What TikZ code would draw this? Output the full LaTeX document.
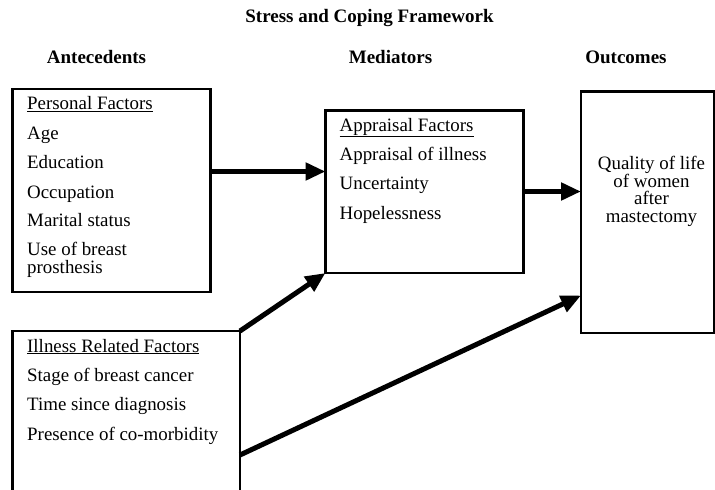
\documentclass[tikz,border=0pt]{standalone}
\usepackage{fontspec}
\setmainfont{Liberation Serif}
\usetikzlibrary{arrows.meta}
\begin{document}
\begin{tikzpicture}[x=1pt,y=-1pt,
  boxstyle/.style={draw=black,line width=2.4pt,inner sep=0pt,outer sep=0pt},
  txt/.style={anchor=base west,inner sep=0pt,font=\fontsize{18.9}{20}\selectfont},
  ctxt/.style={anchor=base,inner sep=0pt,font=\fontsize{18.9}{20}\selectfont},
  head/.style={anchor=base,inner sep=0pt,font=\fontsize{19}{20}\selectfont\bfseries},
  arr/.style={line width=5pt,-{Triangle[length=20pt,width=17pt]}}]
\useasboundingbox (0,0) rectangle (715,490);
\clip (0,0) rectangle (715,490);
% title and headers
\node[head] (title) at (369.5,22) {Stress and Coping Framework};
\node[head] (hant) at (96.5,63.5) {Antecedents};
\node[head] (hmed) at (390.5,63.5) {Mediators};
\node[head] (hout) at (626,63.5) {Outcomes};
% boxes
\node[boxstyle,anchor=north west,minimum width=198pt,minimum height=203pt] (pers) at (12.5,89) {};
\node[boxstyle,anchor=north west,minimum width=227.5pt,minimum height=180pt] (ill) at (12.5,331) {};
\node[boxstyle,anchor=north west,minimum width=198pt,minimum height=162.5pt] (appr) at (325.5,110.5) {};
\node[boxstyle,anchor=north west,minimum width=133pt,minimum height=241.5pt] (outc) at (581,91.5) {};
% personal factors text
\node[txt] (p0) at (27,109.5) {\underline{Personal Factors}};
\node[txt] (p1) at (27,139.5) {Age};
\node[txt] (p2) at (27,168.5) {Education};
\node[txt] (p3) at (27,198) {Occupation};
\node[txt] (p4) at (27,226.5) {Marital status};
\node[txt] (p5) at (27,255) {Use of breast};
\node[txt] (p6) at (27,273) {prosthesis};
% illness factors text
\node[txt] (i0) at (27,352) {\underline{Illness Related Factors}};
\node[txt] (i1) at (27,381.5) {Stage of breast cancer};
\node[txt] (i2) at (27,410.5) {Time since diagnosis};
\node[txt] (i3) at (27,440) {Presence of co-morbidity};
% appraisal text
\node[txt] (a0) at (339.5,131) {\underline{Appraisal Factors}};
\node[txt] (a1) at (339.5,160) {Appraisal of illness};
\node[txt] (a2) at (339.5,189.5) {Uncertainty};
\node[txt] (a3) at (339.5,219) {Hopelessness};
% outcome text
\node[ctxt] (o0) at (651.5,169.5) {Quality of life};
\node[ctxt] (o1) at (651.5,187) {of women};
\node[ctxt] (o2) at (651.5,204.5) {after};
\node[ctxt] (o3) at (651.5,222) {mastectomy};
% connector end points
\coordinate (c1s) at (pers.east |- 0,171.5);
\coordinate (c1e) at (appr.west |- 0,171.5);
\coordinate (c2s) at (appr.east |- 0,191.5);
\coordinate (c2e) at (outc.west |- 0,191.5);
\coordinate (c4s) at (ill.east |- 0,455);
\coordinate (c4e) at (outc.west |- 0,295.5);
% connectors
\draw[arr] (c1s) -- (c1e);
\draw[arr] (c2s) -- (c2e);
\draw[arr] (ill.north east) -- (appr.south west);
\draw[arr] (c4s) -- (c4e);
\end{tikzpicture}
\end{document}
